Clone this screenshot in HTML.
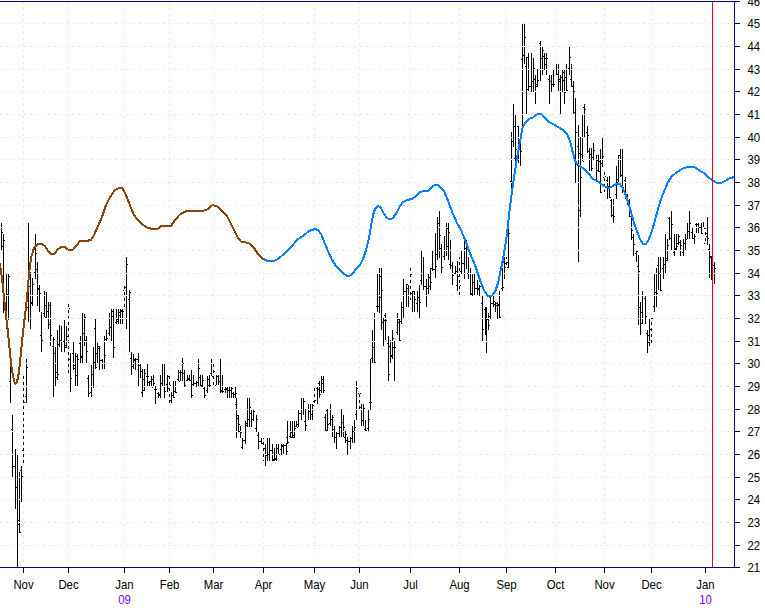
<!DOCTYPE html><html><head><meta charset="utf-8"><style>html,body{margin:0;padding:0;background:#fff}svg{display:block}text{font-family:"Liberation Sans",sans-serif;font-size:12px;fill:#000}</style></head><body>
<svg width="765" height="610" viewBox="0 0 765 610">
<rect width="765" height="610" fill="#fff"/>
<g shape-rendering="crispEdges" fill="#000">
<rect x="1" y="223" width="1" height="27"/>
<rect x="0" y="227" width="1" height="1"/>
<rect x="2" y="232" width="1" height="1"/>
<rect x="3" y="234" width="1" height="79"/>
<rect x="2" y="246" width="1" height="1"/>
<rect x="4" y="240" width="1" height="1"/>
<rect x="6" y="274" width="1" height="55"/>
<rect x="5" y="302" width="1" height="1"/>
<rect x="7" y="294" width="1" height="1"/>
<rect x="8" y="274" width="1" height="46"/>
<rect x="7" y="294" width="1" height="1"/>
<rect x="9" y="276" width="1" height="1"/>
<rect x="10" y="364" width="1" height="39"/>
<rect x="9" y="381" width="1" height="1"/>
<rect x="11" y="367" width="1" height="1"/>
<rect x="12" y="415" width="1" height="62"/>
<rect x="11" y="429" width="1" height="1"/>
<rect x="13" y="466" width="1" height="1"/>
<rect x="15" y="449" width="1" height="60"/>
<rect x="14" y="466" width="1" height="1"/>
<rect x="16" y="487" width="1" height="1"/>
<rect x="17" y="455" width="1" height="112"/>
<rect x="16" y="487" width="1" height="1"/>
<rect x="18" y="520" width="1" height="1"/>
<rect x="19" y="472" width="1" height="61"/>
<rect x="18" y="524" width="1" height="1"/>
<rect x="20" y="532" width="1" height="1"/>
<rect x="21" y="466" width="1" height="36"/>
<rect x="20" y="470" width="1" height="1"/>
<rect x="22" y="476" width="1" height="1"/>
<rect x="23" y="375" width="1" height="88"/>
<rect x="22" y="450" width="1" height="1"/>
<rect x="24" y="402" width="1" height="1"/>
<rect x="26" y="359" width="1" height="44"/>
<rect x="25" y="396" width="1" height="1"/>
<rect x="27" y="367" width="1" height="1"/>
<rect x="28" y="223" width="1" height="99"/>
<rect x="27" y="307" width="1" height="1"/>
<rect x="29" y="286" width="1" height="1"/>
<rect x="30" y="272" width="1" height="57"/>
<rect x="29" y="275" width="1" height="1"/>
<rect x="31" y="303" width="1" height="1"/>
<rect x="32" y="278" width="1" height="28"/>
<rect x="31" y="302" width="1" height="1"/>
<rect x="33" y="284" width="1" height="1"/>
<rect x="35" y="234" width="1" height="45"/>
<rect x="34" y="272" width="1" height="1"/>
<rect x="36" y="253" width="1" height="1"/>
<rect x="37" y="262" width="1" height="44"/>
<rect x="36" y="269" width="1" height="1"/>
<rect x="38" y="288" width="1" height="1"/>
<rect x="39" y="285" width="1" height="27"/>
<rect x="38" y="289" width="1" height="1"/>
<rect x="40" y="293" width="1" height="1"/>
<rect x="41" y="312" width="1" height="40"/>
<rect x="40" y="335" width="1" height="1"/>
<rect x="42" y="340" width="1" height="1"/>
<rect x="44" y="291" width="1" height="26"/>
<rect x="43" y="313" width="1" height="1"/>
<rect x="45" y="305" width="1" height="1"/>
<rect x="46" y="292" width="1" height="26"/>
<rect x="45" y="317" width="1" height="1"/>
<rect x="47" y="311" width="1" height="1"/>
<rect x="48" y="302" width="1" height="27"/>
<rect x="47" y="311" width="1" height="1"/>
<rect x="49" y="305" width="1" height="1"/>
<rect x="50" y="302" width="1" height="44"/>
<rect x="49" y="324" width="1" height="1"/>
<rect x="51" y="335" width="1" height="1"/>
<rect x="53" y="337" width="1" height="60"/>
<rect x="52" y="346" width="1" height="1"/>
<rect x="54" y="339" width="1" height="1"/>
<rect x="55" y="347" width="1" height="39"/>
<rect x="54" y="353" width="1" height="1"/>
<rect x="56" y="377" width="1" height="1"/>
<rect x="57" y="330" width="1" height="50"/>
<rect x="56" y="372" width="1" height="1"/>
<rect x="58" y="374" width="1" height="1"/>
<rect x="59" y="325" width="1" height="22"/>
<rect x="58" y="344" width="1" height="1"/>
<rect x="60" y="340" width="1" height="1"/>
<rect x="61" y="326" width="1" height="26"/>
<rect x="60" y="340" width="1" height="1"/>
<rect x="62" y="341" width="1" height="1"/>
<rect x="64" y="320" width="1" height="32"/>
<rect x="63" y="341" width="1" height="1"/>
<rect x="65" y="347" width="1" height="1"/>
<rect x="66" y="326" width="1" height="22"/>
<rect x="65" y="345" width="1" height="1"/>
<rect x="67" y="336" width="1" height="1"/>
<rect x="68" y="304" width="1" height="70"/>
<rect x="67" y="336" width="1" height="1"/>
<rect x="69" y="308" width="1" height="1"/>
<rect x="70" y="353" width="1" height="39"/>
<rect x="69" y="359" width="1" height="1"/>
<rect x="71" y="378" width="1" height="1"/>
<rect x="73" y="342" width="1" height="28"/>
<rect x="72" y="353" width="1" height="1"/>
<rect x="74" y="365" width="1" height="1"/>
<rect x="75" y="353" width="1" height="33"/>
<rect x="74" y="368" width="1" height="1"/>
<rect x="76" y="375" width="1" height="1"/>
<rect x="77" y="354" width="1" height="32"/>
<rect x="76" y="356" width="1" height="1"/>
<rect x="78" y="359" width="1" height="1"/>
<rect x="80" y="336" width="1" height="27"/>
<rect x="79" y="343" width="1" height="1"/>
<rect x="81" y="357" width="1" height="1"/>
<rect x="82" y="313" width="1" height="50"/>
<rect x="81" y="356" width="1" height="1"/>
<rect x="83" y="333" width="1" height="1"/>
<rect x="84" y="314" width="1" height="32"/>
<rect x="83" y="333" width="1" height="1"/>
<rect x="85" y="317" width="1" height="1"/>
<rect x="86" y="336" width="1" height="27"/>
<rect x="85" y="340" width="1" height="1"/>
<rect x="87" y="351" width="1" height="1"/>
<rect x="88" y="375" width="1" height="22"/>
<rect x="87" y="378" width="1" height="1"/>
<rect x="89" y="393" width="1" height="1"/>
<rect x="91" y="365" width="1" height="32"/>
<rect x="90" y="392" width="1" height="1"/>
<rect x="92" y="374" width="1" height="1"/>
<rect x="93" y="347" width="1" height="41"/>
<rect x="92" y="374" width="1" height="1"/>
<rect x="94" y="362" width="1" height="1"/>
<rect x="95" y="319" width="1" height="50"/>
<rect x="94" y="328" width="1" height="1"/>
<rect x="96" y="367" width="1" height="1"/>
<rect x="97" y="343" width="1" height="20"/>
<rect x="96" y="353" width="1" height="1"/>
<rect x="98" y="348" width="1" height="1"/>
<rect x="99" y="346" width="1" height="24"/>
<rect x="98" y="346" width="1" height="1"/>
<rect x="100" y="360" width="1" height="1"/>
<rect x="102" y="359" width="1" height="10"/>
<rect x="101" y="360" width="1" height="1"/>
<rect x="103" y="363" width="1" height="1"/>
<rect x="104" y="336" width="1" height="33"/>
<rect x="103" y="363" width="1" height="1"/>
<rect x="105" y="355" width="1" height="1"/>
<rect x="106" y="330" width="1" height="11"/>
<rect x="105" y="339" width="1" height="1"/>
<rect x="107" y="338" width="1" height="1"/>
<rect x="109" y="313" width="1" height="23"/>
<rect x="108" y="333" width="1" height="1"/>
<rect x="110" y="327" width="1" height="1"/>
<rect x="111" y="309" width="1" height="32"/>
<rect x="110" y="327" width="1" height="1"/>
<rect x="112" y="311" width="1" height="1"/>
<rect x="113" y="309" width="1" height="49"/>
<rect x="112" y="316" width="1" height="1"/>
<rect x="114" y="347" width="1" height="1"/>
<rect x="116" y="309" width="1" height="15"/>
<rect x="115" y="322" width="1" height="1"/>
<rect x="117" y="321" width="1" height="1"/>
<rect x="118" y="309" width="1" height="15"/>
<rect x="117" y="319" width="1" height="1"/>
<rect x="119" y="315" width="1" height="1"/>
<rect x="120" y="309" width="1" height="15"/>
<rect x="119" y="312" width="1" height="1"/>
<rect x="121" y="310" width="1" height="1"/>
<rect x="122" y="309" width="1" height="15"/>
<rect x="121" y="311" width="1" height="1"/>
<rect x="123" y="311" width="1" height="1"/>
<rect x="124" y="286" width="1" height="24"/>
<rect x="123" y="290" width="1" height="1"/>
<rect x="125" y="287" width="1" height="1"/>
<rect x="126" y="257" width="1" height="72"/>
<rect x="125" y="287" width="1" height="1"/>
<rect x="127" y="264" width="1" height="1"/>
<rect x="129" y="290" width="1" height="62"/>
<rect x="128" y="299" width="1" height="1"/>
<rect x="130" y="292" width="1" height="1"/>
<rect x="131" y="352" width="1" height="23"/>
<rect x="130" y="358" width="1" height="1"/>
<rect x="132" y="366" width="1" height="1"/>
<rect x="133" y="354" width="1" height="15"/>
<rect x="132" y="366" width="1" height="1"/>
<rect x="134" y="359" width="1" height="1"/>
<rect x="135" y="358" width="1" height="12"/>
<rect x="134" y="360" width="1" height="1"/>
<rect x="136" y="359" width="1" height="1"/>
<rect x="138" y="353" width="1" height="33"/>
<rect x="137" y="359" width="1" height="1"/>
<rect x="139" y="386" width="1" height="1"/>
<rect x="140" y="364" width="1" height="14"/>
<rect x="139" y="365" width="1" height="1"/>
<rect x="141" y="371" width="1" height="1"/>
<rect x="142" y="369" width="1" height="28"/>
<rect x="141" y="392" width="1" height="1"/>
<rect x="143" y="379" width="1" height="1"/>
<rect x="144" y="369" width="1" height="22"/>
<rect x="143" y="390" width="1" height="1"/>
<rect x="145" y="373" width="1" height="1"/>
<rect x="147" y="364" width="1" height="22"/>
<rect x="146" y="376" width="1" height="1"/>
<rect x="148" y="376" width="1" height="1"/>
<rect x="149" y="381" width="1" height="5"/>
<rect x="148" y="382" width="1" height="1"/>
<rect x="150" y="381" width="1" height="1"/>
<rect x="151" y="376" width="1" height="11"/>
<rect x="150" y="381" width="1" height="1"/>
<rect x="152" y="387" width="1" height="1"/>
<rect x="153" y="375" width="1" height="11"/>
<rect x="152" y="379" width="1" height="1"/>
<rect x="154" y="383" width="1" height="1"/>
<rect x="155" y="386" width="1" height="18"/>
<rect x="154" y="389" width="1" height="1"/>
<rect x="156" y="389" width="1" height="1"/>
<rect x="158" y="392" width="1" height="6"/>
<rect x="157" y="393" width="1" height="1"/>
<rect x="159" y="395" width="1" height="1"/>
<rect x="160" y="375" width="1" height="23"/>
<rect x="159" y="394" width="1" height="1"/>
<rect x="161" y="383" width="1" height="1"/>
<rect x="162" y="364" width="1" height="22"/>
<rect x="161" y="383" width="1" height="1"/>
<rect x="163" y="386" width="1" height="1"/>
<rect x="164" y="364" width="1" height="34"/>
<rect x="163" y="386" width="1" height="1"/>
<rect x="165" y="391" width="1" height="1"/>
<rect x="167" y="375" width="1" height="17"/>
<rect x="166" y="384" width="1" height="1"/>
<rect x="168" y="388" width="1" height="1"/>
<rect x="169" y="375" width="1" height="28"/>
<rect x="168" y="376" width="1" height="1"/>
<rect x="170" y="385" width="1" height="1"/>
<rect x="171" y="392" width="1" height="11"/>
<rect x="170" y="400" width="1" height="1"/>
<rect x="172" y="395" width="1" height="1"/>
<rect x="173" y="381" width="1" height="17"/>
<rect x="172" y="395" width="1" height="1"/>
<rect x="174" y="397" width="1" height="1"/>
<rect x="175" y="381" width="1" height="12"/>
<rect x="174" y="391" width="1" height="1"/>
<rect x="176" y="392" width="1" height="1"/>
<rect x="178" y="370" width="1" height="11"/>
<rect x="177" y="379" width="1" height="1"/>
<rect x="179" y="381" width="1" height="1"/>
<rect x="180" y="370" width="1" height="11"/>
<rect x="179" y="372" width="1" height="1"/>
<rect x="181" y="372" width="1" height="1"/>
<rect x="182" y="358" width="1" height="23"/>
<rect x="181" y="372" width="1" height="1"/>
<rect x="183" y="363" width="1" height="1"/>
<rect x="184" y="370" width="1" height="17"/>
<rect x="183" y="373" width="1" height="1"/>
<rect x="185" y="385" width="1" height="1"/>
<rect x="187" y="375" width="1" height="6"/>
<rect x="186" y="380" width="1" height="1"/>
<rect x="188" y="378" width="1" height="1"/>
<rect x="189" y="375" width="1" height="6"/>
<rect x="188" y="379" width="1" height="1"/>
<rect x="190" y="380" width="1" height="1"/>
<rect x="191" y="370" width="1" height="28"/>
<rect x="190" y="380" width="1" height="1"/>
<rect x="192" y="395" width="1" height="1"/>
<rect x="193" y="375" width="1" height="11"/>
<rect x="192" y="384" width="1" height="1"/>
<rect x="194" y="383" width="1" height="1"/>
<rect x="196" y="381" width="1" height="6"/>
<rect x="195" y="383" width="1" height="1"/>
<rect x="197" y="382" width="1" height="1"/>
<rect x="198" y="359" width="1" height="27"/>
<rect x="197" y="382" width="1" height="1"/>
<rect x="199" y="368" width="1" height="1"/>
<rect x="200" y="375" width="1" height="11"/>
<rect x="199" y="377" width="1" height="1"/>
<rect x="201" y="386" width="1" height="1"/>
<rect x="202" y="375" width="1" height="12"/>
<rect x="201" y="385" width="1" height="1"/>
<rect x="203" y="380" width="1" height="1"/>
<rect x="204" y="386" width="1" height="12"/>
<rect x="203" y="388" width="1" height="1"/>
<rect x="205" y="395" width="1" height="1"/>
<rect x="207" y="376" width="1" height="17"/>
<rect x="206" y="390" width="1" height="1"/>
<rect x="208" y="379" width="1" height="1"/>
<rect x="209" y="375" width="1" height="12"/>
<rect x="208" y="385" width="1" height="1"/>
<rect x="210" y="385" width="1" height="1"/>
<rect x="211" y="359" width="1" height="17"/>
<rect x="210" y="373" width="1" height="1"/>
<rect x="212" y="376" width="1" height="1"/>
<rect x="213" y="364" width="1" height="21"/>
<rect x="212" y="376" width="1" height="1"/>
<rect x="214" y="371" width="1" height="1"/>
<rect x="216" y="375" width="1" height="10"/>
<rect x="215" y="385" width="1" height="1"/>
<rect x="217" y="376" width="1" height="1"/>
<rect x="218" y="375" width="1" height="10"/>
<rect x="217" y="376" width="1" height="1"/>
<rect x="219" y="381" width="1" height="1"/>
<rect x="220" y="359" width="1" height="34"/>
<rect x="219" y="381" width="1" height="1"/>
<rect x="221" y="391" width="1" height="1"/>
<rect x="222" y="375" width="1" height="18"/>
<rect x="221" y="390" width="1" height="1"/>
<rect x="223" y="391" width="1" height="1"/>
<rect x="225" y="387" width="1" height="6"/>
<rect x="224" y="389" width="1" height="1"/>
<rect x="226" y="388" width="1" height="1"/>
<rect x="227" y="387" width="1" height="11"/>
<rect x="226" y="389" width="1" height="1"/>
<rect x="228" y="390" width="1" height="1"/>
<rect x="229" y="387" width="1" height="11"/>
<rect x="228" y="390" width="1" height="1"/>
<rect x="230" y="390" width="1" height="1"/>
<rect x="231" y="387" width="1" height="11"/>
<rect x="230" y="390" width="1" height="1"/>
<rect x="232" y="388" width="1" height="1"/>
<rect x="233" y="392" width="1" height="6"/>
<rect x="232" y="393" width="1" height="1"/>
<rect x="234" y="394" width="1" height="1"/>
<rect x="235" y="387" width="1" height="11"/>
<rect x="234" y="394" width="1" height="1"/>
<rect x="236" y="393" width="1" height="1"/>
<rect x="236" y="398" width="1" height="40"/>
<rect x="235" y="404" width="1" height="1"/>
<rect x="237" y="415" width="1" height="1"/>
<rect x="238" y="415" width="1" height="17"/>
<rect x="237" y="418" width="1" height="1"/>
<rect x="239" y="424" width="1" height="1"/>
<rect x="240" y="426" width="1" height="12"/>
<rect x="239" y="431" width="1" height="1"/>
<rect x="241" y="432" width="1" height="1"/>
<rect x="242" y="438" width="1" height="11"/>
<rect x="241" y="447" width="1" height="1"/>
<rect x="243" y="440" width="1" height="1"/>
<rect x="245" y="421" width="1" height="23"/>
<rect x="244" y="440" width="1" height="1"/>
<rect x="246" y="425" width="1" height="1"/>
<rect x="247" y="398" width="1" height="29"/>
<rect x="246" y="423" width="1" height="1"/>
<rect x="248" y="419" width="1" height="1"/>
<rect x="249" y="398" width="1" height="29"/>
<rect x="248" y="419" width="1" height="1"/>
<rect x="250" y="407" width="1" height="1"/>
<rect x="251" y="410" width="1" height="17"/>
<rect x="250" y="413" width="1" height="1"/>
<rect x="252" y="419" width="1" height="1"/>
<rect x="253" y="410" width="1" height="11"/>
<rect x="252" y="419" width="1" height="1"/>
<rect x="254" y="411" width="1" height="1"/>
<rect x="256" y="415" width="1" height="17"/>
<rect x="255" y="428" width="1" height="1"/>
<rect x="257" y="419" width="1" height="1"/>
<rect x="258" y="432" width="1" height="17"/>
<rect x="257" y="435" width="1" height="1"/>
<rect x="259" y="441" width="1" height="1"/>
<rect x="261" y="438" width="1" height="6"/>
<rect x="260" y="441" width="1" height="1"/>
<rect x="262" y="443" width="1" height="1"/>
<rect x="263" y="438" width="1" height="23"/>
<rect x="262" y="443" width="1" height="1"/>
<rect x="264" y="448" width="1" height="1"/>
<rect x="265" y="444" width="1" height="22"/>
<rect x="264" y="448" width="1" height="1"/>
<rect x="266" y="455" width="1" height="1"/>
<rect x="267" y="438" width="1" height="23"/>
<rect x="266" y="455" width="1" height="1"/>
<rect x="268" y="454" width="1" height="1"/>
<rect x="269" y="438" width="1" height="23"/>
<rect x="268" y="454" width="1" height="1"/>
<rect x="270" y="450" width="1" height="1"/>
<rect x="272" y="444" width="1" height="17"/>
<rect x="271" y="450" width="1" height="1"/>
<rect x="273" y="460" width="1" height="1"/>
<rect x="274" y="448" width="1" height="13"/>
<rect x="273" y="459" width="1" height="1"/>
<rect x="275" y="459" width="1" height="1"/>
<rect x="276" y="444" width="1" height="17"/>
<rect x="275" y="458" width="1" height="1"/>
<rect x="277" y="448" width="1" height="1"/>
<rect x="278" y="444" width="1" height="11"/>
<rect x="277" y="448" width="1" height="1"/>
<rect x="279" y="454" width="1" height="1"/>
<rect x="281" y="444" width="1" height="11"/>
<rect x="280" y="449" width="1" height="1"/>
<rect x="282" y="446" width="1" height="1"/>
<rect x="283" y="444" width="1" height="11"/>
<rect x="282" y="445" width="1" height="1"/>
<rect x="284" y="445" width="1" height="1"/>
<rect x="286" y="443" width="1" height="12"/>
<rect x="285" y="445" width="1" height="1"/>
<rect x="287" y="451" width="1" height="1"/>
<rect x="287" y="421" width="1" height="23"/>
<rect x="286" y="437" width="1" height="1"/>
<rect x="288" y="442" width="1" height="1"/>
<rect x="290" y="421" width="1" height="17"/>
<rect x="289" y="436" width="1" height="1"/>
<rect x="291" y="432" width="1" height="1"/>
<rect x="292" y="421" width="1" height="17"/>
<rect x="291" y="437" width="1" height="1"/>
<rect x="293" y="437" width="1" height="1"/>
<rect x="294" y="421" width="1" height="17"/>
<rect x="293" y="435" width="1" height="1"/>
<rect x="295" y="428" width="1" height="1"/>
<rect x="296" y="421" width="1" height="6"/>
<rect x="295" y="426" width="1" height="1"/>
<rect x="297" y="427" width="1" height="1"/>
<rect x="298" y="410" width="1" height="17"/>
<rect x="297" y="424" width="1" height="1"/>
<rect x="299" y="413" width="1" height="1"/>
<rect x="301" y="398" width="1" height="22"/>
<rect x="300" y="413" width="1" height="1"/>
<rect x="302" y="409" width="1" height="1"/>
<rect x="303" y="398" width="1" height="17"/>
<rect x="302" y="409" width="1" height="1"/>
<rect x="304" y="401" width="1" height="1"/>
<rect x="305" y="409" width="1" height="22"/>
<rect x="304" y="421" width="1" height="1"/>
<rect x="306" y="425" width="1" height="1"/>
<rect x="308" y="404" width="1" height="16"/>
<rect x="307" y="409" width="1" height="1"/>
<rect x="309" y="411" width="1" height="1"/>
<rect x="310" y="404" width="1" height="16"/>
<rect x="309" y="411" width="1" height="1"/>
<rect x="311" y="414" width="1" height="1"/>
<rect x="312" y="404" width="1" height="16"/>
<rect x="311" y="414" width="1" height="1"/>
<rect x="313" y="405" width="1" height="1"/>
<rect x="314" y="387" width="1" height="17"/>
<rect x="313" y="401" width="1" height="1"/>
<rect x="315" y="400" width="1" height="1"/>
<rect x="317" y="387" width="1" height="17"/>
<rect x="316" y="388" width="1" height="1"/>
<rect x="318" y="389" width="1" height="1"/>
<rect x="319" y="381" width="1" height="17"/>
<rect x="318" y="383" width="1" height="1"/>
<rect x="320" y="394" width="1" height="1"/>
<rect x="321" y="376" width="1" height="17"/>
<rect x="320" y="390" width="1" height="1"/>
<rect x="322" y="383" width="1" height="1"/>
<rect x="323" y="376" width="1" height="17"/>
<rect x="322" y="379" width="1" height="1"/>
<rect x="324" y="390" width="1" height="1"/>
<rect x="325" y="414" width="1" height="17"/>
<rect x="324" y="417" width="1" height="1"/>
<rect x="326" y="430" width="1" height="1"/>
<rect x="327" y="409" width="1" height="22"/>
<rect x="326" y="410" width="1" height="1"/>
<rect x="328" y="424" width="1" height="1"/>
<rect x="330" y="404" width="1" height="22"/>
<rect x="329" y="423" width="1" height="1"/>
<rect x="331" y="419" width="1" height="1"/>
<rect x="332" y="415" width="1" height="22"/>
<rect x="331" y="419" width="1" height="1"/>
<rect x="333" y="417" width="1" height="1"/>
<rect x="334" y="426" width="1" height="17"/>
<rect x="333" y="429" width="1" height="1"/>
<rect x="335" y="437" width="1" height="1"/>
<rect x="336" y="431" width="1" height="18"/>
<rect x="335" y="437" width="1" height="1"/>
<rect x="337" y="433" width="1" height="1"/>
<rect x="339" y="426" width="1" height="11"/>
<rect x="338" y="433" width="1" height="1"/>
<rect x="340" y="427" width="1" height="1"/>
<rect x="341" y="409" width="1" height="28"/>
<rect x="340" y="427" width="1" height="1"/>
<rect x="342" y="422" width="1" height="1"/>
<rect x="343" y="415" width="1" height="22"/>
<rect x="342" y="422" width="1" height="1"/>
<rect x="344" y="427" width="1" height="1"/>
<rect x="345" y="431" width="1" height="12"/>
<rect x="344" y="437" width="1" height="1"/>
<rect x="346" y="434" width="1" height="1"/>
<rect x="347" y="437" width="1" height="18"/>
<rect x="346" y="440" width="1" height="1"/>
<rect x="348" y="441" width="1" height="1"/>
<rect x="350" y="437" width="1" height="12"/>
<rect x="349" y="441" width="1" height="1"/>
<rect x="351" y="438" width="1" height="1"/>
<rect x="352" y="426" width="1" height="17"/>
<rect x="351" y="438" width="1" height="1"/>
<rect x="353" y="431" width="1" height="1"/>
<rect x="354" y="420" width="1" height="23"/>
<rect x="353" y="431" width="1" height="1"/>
<rect x="355" y="427" width="1" height="1"/>
<rect x="356" y="381" width="1" height="39"/>
<rect x="355" y="414" width="1" height="1"/>
<rect x="357" y="388" width="1" height="1"/>
<rect x="359" y="393" width="1" height="17"/>
<rect x="358" y="393" width="1" height="1"/>
<rect x="360" y="393" width="1" height="1"/>
<rect x="361" y="404" width="1" height="22"/>
<rect x="360" y="407" width="1" height="1"/>
<rect x="362" y="420" width="1" height="1"/>
<rect x="363" y="404" width="1" height="22"/>
<rect x="362" y="420" width="1" height="1"/>
<rect x="364" y="408" width="1" height="1"/>
<rect x="365" y="420" width="1" height="11"/>
<rect x="364" y="429" width="1" height="1"/>
<rect x="366" y="430" width="1" height="1"/>
<rect x="368" y="409" width="1" height="22"/>
<rect x="367" y="428" width="1" height="1"/>
<rect x="369" y="419" width="1" height="1"/>
<rect x="370" y="359" width="1" height="51"/>
<rect x="369" y="402" width="1" height="1"/>
<rect x="371" y="402" width="1" height="1"/>
<rect x="372" y="330" width="1" height="33"/>
<rect x="371" y="358" width="1" height="1"/>
<rect x="373" y="347" width="1" height="1"/>
<rect x="374" y="313" width="1" height="50"/>
<rect x="373" y="347" width="1" height="1"/>
<rect x="375" y="362" width="1" height="1"/>
<rect x="377" y="274" width="1" height="38"/>
<rect x="376" y="306" width="1" height="1"/>
<rect x="378" y="306" width="1" height="1"/>
<rect x="379" y="268" width="1" height="45"/>
<rect x="378" y="306" width="1" height="1"/>
<rect x="380" y="297" width="1" height="1"/>
<rect x="381" y="268" width="1" height="62"/>
<rect x="380" y="276" width="1" height="1"/>
<rect x="382" y="290" width="1" height="1"/>
<rect x="383" y="318" width="1" height="28"/>
<rect x="382" y="322" width="1" height="1"/>
<rect x="384" y="320" width="1" height="1"/>
<rect x="385" y="313" width="1" height="27"/>
<rect x="384" y="315" width="1" height="1"/>
<rect x="386" y="320" width="1" height="1"/>
<rect x="388" y="336" width="1" height="45"/>
<rect x="387" y="343" width="1" height="1"/>
<rect x="389" y="374" width="1" height="1"/>
<rect x="390" y="340" width="1" height="24"/>
<rect x="389" y="346" width="1" height="1"/>
<rect x="391" y="356" width="1" height="1"/>
<rect x="392" y="330" width="1" height="29"/>
<rect x="391" y="355" width="1" height="1"/>
<rect x="393" y="338" width="1" height="1"/>
<rect x="394" y="341" width="1" height="40"/>
<rect x="393" y="347" width="1" height="1"/>
<rect x="395" y="347" width="1" height="1"/>
<rect x="397" y="313" width="1" height="22"/>
<rect x="396" y="332" width="1" height="1"/>
<rect x="398" y="319" width="1" height="1"/>
<rect x="399" y="319" width="1" height="22"/>
<rect x="398" y="322" width="1" height="1"/>
<rect x="400" y="340" width="1" height="1"/>
<rect x="401" y="302" width="1" height="22"/>
<rect x="400" y="321" width="1" height="1"/>
<rect x="402" y="307" width="1" height="1"/>
<rect x="403" y="279" width="1" height="39"/>
<rect x="402" y="307" width="1" height="1"/>
<rect x="404" y="291" width="1" height="1"/>
<rect x="406" y="284" width="1" height="23"/>
<rect x="405" y="291" width="1" height="1"/>
<rect x="407" y="284" width="1" height="1"/>
<rect x="408" y="285" width="1" height="22"/>
<rect x="407" y="288" width="1" height="1"/>
<rect x="409" y="295" width="1" height="1"/>
<rect x="410" y="268" width="1" height="32"/>
<rect x="409" y="295" width="1" height="1"/>
<rect x="411" y="274" width="1" height="1"/>
<rect x="412" y="291" width="1" height="21"/>
<rect x="411" y="293" width="1" height="1"/>
<rect x="413" y="291" width="1" height="1"/>
<rect x="414" y="291" width="1" height="21"/>
<rect x="413" y="291" width="1" height="1"/>
<rect x="415" y="299" width="1" height="1"/>
<rect x="417" y="291" width="1" height="21"/>
<rect x="416" y="303" width="1" height="1"/>
<rect x="418" y="297" width="1" height="1"/>
<rect x="419" y="285" width="1" height="33"/>
<rect x="418" y="297" width="1" height="1"/>
<rect x="420" y="302" width="1" height="1"/>
<rect x="421" y="251" width="1" height="34"/>
<rect x="420" y="280" width="1" height="1"/>
<rect x="422" y="273" width="1" height="1"/>
<rect x="423" y="257" width="1" height="33"/>
<rect x="422" y="273" width="1" height="1"/>
<rect x="424" y="286" width="1" height="1"/>
<rect x="426" y="279" width="1" height="28"/>
<rect x="425" y="286" width="1" height="1"/>
<rect x="427" y="288" width="1" height="1"/>
<rect x="428" y="274" width="1" height="20"/>
<rect x="427" y="288" width="1" height="1"/>
<rect x="429" y="277" width="1" height="1"/>
<rect x="430" y="268" width="1" height="22"/>
<rect x="429" y="286" width="1" height="1"/>
<rect x="431" y="282" width="1" height="1"/>
<rect x="432" y="251" width="1" height="20"/>
<rect x="431" y="268" width="1" height="1"/>
<rect x="433" y="269" width="1" height="1"/>
<rect x="435" y="233" width="1" height="45"/>
<rect x="434" y="269" width="1" height="1"/>
<rect x="436" y="266" width="1" height="1"/>
<rect x="437" y="217" width="1" height="43"/>
<rect x="436" y="254" width="1" height="1"/>
<rect x="438" y="223" width="1" height="1"/>
<rect x="439" y="211" width="1" height="47"/>
<rect x="438" y="223" width="1" height="1"/>
<rect x="440" y="235" width="1" height="1"/>
<rect x="441" y="244" width="1" height="29"/>
<rect x="440" y="248" width="1" height="1"/>
<rect x="442" y="267" width="1" height="1"/>
<rect x="444" y="236" width="1" height="24"/>
<rect x="443" y="256" width="1" height="1"/>
<rect x="445" y="250" width="1" height="1"/>
<rect x="446" y="223" width="1" height="33"/>
<rect x="445" y="250" width="1" height="1"/>
<rect x="447" y="246" width="1" height="1"/>
<rect x="448" y="223" width="1" height="37"/>
<rect x="447" y="228" width="1" height="1"/>
<rect x="449" y="232" width="1" height="1"/>
<rect x="450" y="240" width="1" height="29"/>
<rect x="449" y="264" width="1" height="1"/>
<rect x="451" y="250" width="1" height="1"/>
<rect x="452" y="262" width="1" height="23"/>
<rect x="451" y="265" width="1" height="1"/>
<rect x="453" y="275" width="1" height="1"/>
<rect x="455" y="266" width="1" height="8"/>
<rect x="454" y="273" width="1" height="1"/>
<rect x="456" y="271" width="1" height="1"/>
<rect x="457" y="261" width="1" height="30"/>
<rect x="456" y="285" width="1" height="1"/>
<rect x="458" y="276" width="1" height="1"/>
<rect x="459" y="257" width="1" height="38"/>
<rect x="458" y="276" width="1" height="1"/>
<rect x="460" y="285" width="1" height="1"/>
<rect x="461" y="251" width="1" height="23"/>
<rect x="460" y="271" width="1" height="1"/>
<rect x="462" y="263" width="1" height="1"/>
<rect x="464" y="240" width="1" height="39"/>
<rect x="463" y="263" width="1" height="1"/>
<rect x="465" y="243" width="1" height="1"/>
<rect x="466" y="240" width="1" height="29"/>
<rect x="465" y="248" width="1" height="1"/>
<rect x="467" y="247" width="1" height="1"/>
<rect x="468" y="257" width="1" height="22"/>
<rect x="467" y="273" width="1" height="1"/>
<rect x="469" y="273" width="1" height="1"/>
<rect x="470" y="268" width="1" height="27"/>
<rect x="469" y="273" width="1" height="1"/>
<rect x="471" y="294" width="1" height="1"/>
<rect x="472" y="274" width="1" height="22"/>
<rect x="471" y="293" width="1" height="1"/>
<rect x="473" y="282" width="1" height="1"/>
<rect x="474" y="274" width="1" height="21"/>
<rect x="473" y="282" width="1" height="1"/>
<rect x="475" y="288" width="1" height="1"/>
<rect x="477" y="280" width="1" height="15"/>
<rect x="476" y="288" width="1" height="1"/>
<rect x="478" y="289" width="1" height="1"/>
<rect x="479" y="285" width="1" height="11"/>
<rect x="478" y="288" width="1" height="1"/>
<rect x="480" y="286" width="1" height="1"/>
<rect x="482" y="296" width="1" height="45"/>
<rect x="481" y="303" width="1" height="1"/>
<rect x="483" y="329" width="1" height="1"/>
<rect x="485" y="307" width="1" height="28"/>
<rect x="484" y="309" width="1" height="1"/>
<rect x="486" y="323" width="1" height="1"/>
<rect x="486" y="307" width="1" height="46"/>
<rect x="485" y="323" width="1" height="1"/>
<rect x="487" y="319" width="1" height="1"/>
<rect x="488" y="313" width="1" height="17"/>
<rect x="487" y="319" width="1" height="1"/>
<rect x="489" y="325" width="1" height="1"/>
<rect x="490" y="296" width="1" height="23"/>
<rect x="489" y="316" width="1" height="1"/>
<rect x="491" y="303" width="1" height="1"/>
<rect x="493" y="296" width="1" height="11"/>
<rect x="492" y="303" width="1" height="1"/>
<rect x="494" y="301" width="1" height="1"/>
<rect x="495" y="302" width="1" height="10"/>
<rect x="494" y="304" width="1" height="1"/>
<rect x="496" y="303" width="1" height="1"/>
<rect x="497" y="302" width="1" height="17"/>
<rect x="496" y="305" width="1" height="1"/>
<rect x="498" y="305" width="1" height="1"/>
<rect x="499" y="291" width="1" height="28"/>
<rect x="498" y="304" width="1" height="1"/>
<rect x="500" y="317" width="1" height="1"/>
<rect x="502" y="268" width="1" height="23"/>
<rect x="501" y="288" width="1" height="1"/>
<rect x="503" y="287" width="1" height="1"/>
<rect x="504" y="257" width="1" height="22"/>
<rect x="503" y="262" width="1" height="1"/>
<rect x="505" y="267" width="1" height="1"/>
<rect x="506" y="257" width="1" height="11"/>
<rect x="505" y="263" width="1" height="1"/>
<rect x="507" y="267" width="1" height="1"/>
<rect x="508" y="227" width="1" height="41"/>
<rect x="507" y="262" width="1" height="1"/>
<rect x="509" y="233" width="1" height="1"/>
<rect x="511" y="132" width="1" height="60"/>
<rect x="510" y="181" width="1" height="1"/>
<rect x="512" y="189" width="1" height="1"/>
<rect x="513" y="104" width="1" height="43"/>
<rect x="512" y="141" width="1" height="1"/>
<rect x="514" y="126" width="1" height="1"/>
<rect x="515" y="115" width="1" height="48"/>
<rect x="514" y="158" width="1" height="1"/>
<rect x="516" y="149" width="1" height="1"/>
<rect x="518" y="126" width="1" height="37"/>
<rect x="517" y="126" width="1" height="1"/>
<rect x="519" y="144" width="1" height="1"/>
<rect x="520" y="137" width="1" height="29"/>
<rect x="519" y="144" width="1" height="1"/>
<rect x="521" y="151" width="1" height="1"/>
<rect x="522" y="24" width="1" height="102"/>
<rect x="521" y="59" width="1" height="1"/>
<rect x="523" y="55" width="1" height="1"/>
<rect x="524" y="24" width="1" height="40"/>
<rect x="523" y="55" width="1" height="1"/>
<rect x="525" y="37" width="1" height="1"/>
<rect x="526" y="57" width="1" height="57"/>
<rect x="525" y="66" width="1" height="1"/>
<rect x="527" y="57" width="1" height="1"/>
<rect x="528" y="53" width="1" height="39"/>
<rect x="527" y="89" width="1" height="1"/>
<rect x="529" y="86" width="1" height="1"/>
<rect x="531" y="53" width="1" height="39"/>
<rect x="530" y="86" width="1" height="1"/>
<rect x="532" y="81" width="1" height="1"/>
<rect x="533" y="58" width="1" height="34"/>
<rect x="532" y="81" width="1" height="1"/>
<rect x="534" y="68" width="1" height="1"/>
<rect x="535" y="75" width="1" height="29"/>
<rect x="534" y="79" width="1" height="1"/>
<rect x="536" y="86" width="1" height="1"/>
<rect x="537" y="69" width="1" height="18"/>
<rect x="536" y="84" width="1" height="1"/>
<rect x="538" y="80" width="1" height="1"/>
<rect x="540" y="41" width="1" height="40"/>
<rect x="539" y="43" width="1" height="1"/>
<rect x="541" y="58" width="1" height="1"/>
<rect x="542" y="47" width="1" height="28"/>
<rect x="541" y="58" width="1" height="1"/>
<rect x="543" y="50" width="1" height="1"/>
<rect x="544" y="53" width="1" height="17"/>
<rect x="543" y="56" width="1" height="1"/>
<rect x="545" y="58" width="1" height="1"/>
<rect x="546" y="53" width="1" height="22"/>
<rect x="545" y="64" width="1" height="1"/>
<rect x="547" y="58" width="1" height="1"/>
<rect x="549" y="75" width="1" height="29"/>
<rect x="548" y="79" width="1" height="1"/>
<rect x="550" y="81" width="1" height="1"/>
<rect x="551" y="75" width="1" height="17"/>
<rect x="550" y="81" width="1" height="1"/>
<rect x="552" y="91" width="1" height="1"/>
<rect x="553" y="70" width="1" height="17"/>
<rect x="552" y="84" width="1" height="1"/>
<rect x="554" y="84" width="1" height="1"/>
<rect x="556" y="64" width="1" height="11"/>
<rect x="555" y="73" width="1" height="1"/>
<rect x="557" y="74" width="1" height="1"/>
<rect x="558" y="64" width="1" height="28"/>
<rect x="557" y="74" width="1" height="1"/>
<rect x="559" y="79" width="1" height="1"/>
<rect x="560" y="75" width="1" height="39"/>
<rect x="559" y="81" width="1" height="1"/>
<rect x="561" y="77" width="1" height="1"/>
<rect x="562" y="70" width="1" height="22"/>
<rect x="561" y="77" width="1" height="1"/>
<rect x="563" y="80" width="1" height="1"/>
<rect x="564" y="70" width="1" height="34"/>
<rect x="563" y="72" width="1" height="1"/>
<rect x="565" y="92" width="1" height="1"/>
<rect x="566" y="64" width="1" height="28"/>
<rect x="565" y="77" width="1" height="1"/>
<rect x="567" y="90" width="1" height="1"/>
<rect x="569" y="47" width="1" height="28"/>
<rect x="568" y="68" width="1" height="1"/>
<rect x="570" y="57" width="1" height="1"/>
<rect x="571" y="64" width="1" height="23"/>
<rect x="570" y="79" width="1" height="1"/>
<rect x="572" y="86" width="1" height="1"/>
<rect x="573" y="81" width="1" height="33"/>
<rect x="572" y="86" width="1" height="1"/>
<rect x="574" y="91" width="1" height="1"/>
<rect x="575" y="98" width="1" height="85"/>
<rect x="574" y="112" width="1" height="1"/>
<rect x="576" y="132" width="1" height="1"/>
<rect x="578" y="125" width="1" height="137"/>
<rect x="577" y="146" width="1" height="1"/>
<rect x="579" y="153" width="1" height="1"/>
<rect x="580" y="137" width="1" height="80"/>
<rect x="579" y="210" width="1" height="1"/>
<rect x="581" y="177" width="1" height="1"/>
<rect x="582" y="115" width="1" height="46"/>
<rect x="581" y="154" width="1" height="1"/>
<rect x="583" y="161" width="1" height="1"/>
<rect x="584" y="104" width="1" height="33"/>
<rect x="583" y="107" width="1" height="1"/>
<rect x="585" y="109" width="1" height="1"/>
<rect x="587" y="126" width="1" height="27"/>
<rect x="586" y="132" width="1" height="1"/>
<rect x="588" y="135" width="1" height="1"/>
<rect x="589" y="148" width="1" height="23"/>
<rect x="588" y="151" width="1" height="1"/>
<rect x="590" y="154" width="1" height="1"/>
<rect x="591" y="148" width="1" height="23"/>
<rect x="590" y="154" width="1" height="1"/>
<rect x="592" y="168" width="1" height="1"/>
<rect x="593" y="143" width="1" height="17"/>
<rect x="592" y="157" width="1" height="1"/>
<rect x="594" y="150" width="1" height="1"/>
<rect x="596" y="155" width="1" height="28"/>
<rect x="595" y="159" width="1" height="1"/>
<rect x="597" y="170" width="1" height="1"/>
<rect x="598" y="155" width="1" height="17"/>
<rect x="597" y="160" width="1" height="1"/>
<rect x="599" y="161" width="1" height="1"/>
<rect x="600" y="149" width="1" height="44"/>
<rect x="599" y="171" width="1" height="1"/>
<rect x="601" y="192" width="1" height="1"/>
<rect x="602" y="138" width="1" height="29"/>
<rect x="601" y="163" width="1" height="1"/>
<rect x="603" y="156" width="1" height="1"/>
<rect x="604" y="172" width="1" height="20"/>
<rect x="603" y="177" width="1" height="1"/>
<rect x="605" y="176" width="1" height="1"/>
<rect x="607" y="177" width="1" height="22"/>
<rect x="606" y="180" width="1" height="1"/>
<rect x="608" y="186" width="1" height="1"/>
<rect x="609" y="176" width="1" height="22"/>
<rect x="608" y="186" width="1" height="1"/>
<rect x="610" y="197" width="1" height="1"/>
<rect x="611" y="199" width="1" height="18"/>
<rect x="610" y="200" width="1" height="1"/>
<rect x="612" y="215" width="1" height="1"/>
<rect x="613" y="199" width="1" height="24"/>
<rect x="612" y="215" width="1" height="1"/>
<rect x="614" y="216" width="1" height="1"/>
<rect x="616" y="166" width="1" height="33"/>
<rect x="615" y="194" width="1" height="1"/>
<rect x="617" y="182" width="1" height="1"/>
<rect x="618" y="155" width="1" height="28"/>
<rect x="617" y="179" width="1" height="1"/>
<rect x="619" y="155" width="1" height="1"/>
<rect x="620" y="149" width="1" height="28"/>
<rect x="619" y="155" width="1" height="1"/>
<rect x="621" y="175" width="1" height="1"/>
<rect x="622" y="149" width="1" height="44"/>
<rect x="621" y="175" width="1" height="1"/>
<rect x="623" y="187" width="1" height="1"/>
<rect x="625" y="177" width="1" height="22"/>
<rect x="624" y="180" width="1" height="1"/>
<rect x="626" y="182" width="1" height="1"/>
<rect x="627" y="194" width="1" height="11"/>
<rect x="626" y="196" width="1" height="1"/>
<rect x="628" y="200" width="1" height="1"/>
<rect x="629" y="199" width="1" height="18"/>
<rect x="628" y="202" width="1" height="1"/>
<rect x="630" y="216" width="1" height="1"/>
<rect x="631" y="211" width="1" height="29"/>
<rect x="630" y="216" width="1" height="1"/>
<rect x="632" y="230" width="1" height="1"/>
<rect x="633" y="234" width="1" height="22"/>
<rect x="632" y="237" width="1" height="1"/>
<rect x="634" y="244" width="1" height="1"/>
<rect x="636" y="251" width="1" height="11"/>
<rect x="635" y="253" width="1" height="1"/>
<rect x="637" y="251" width="1" height="1"/>
<rect x="638" y="255" width="1" height="70"/>
<rect x="637" y="266" width="1" height="1"/>
<rect x="639" y="271" width="1" height="1"/>
<rect x="640" y="302" width="1" height="33"/>
<rect x="639" y="307" width="1" height="1"/>
<rect x="641" y="323" width="1" height="1"/>
<rect x="642" y="291" width="1" height="33"/>
<rect x="641" y="312" width="1" height="1"/>
<rect x="643" y="295" width="1" height="1"/>
<rect x="645" y="296" width="1" height="28"/>
<rect x="644" y="298" width="1" height="1"/>
<rect x="646" y="316" width="1" height="1"/>
<rect x="647" y="330" width="1" height="23"/>
<rect x="646" y="333" width="1" height="1"/>
<rect x="648" y="342" width="1" height="1"/>
<rect x="649" y="319" width="1" height="27"/>
<rect x="648" y="335" width="1" height="1"/>
<rect x="650" y="329" width="1" height="1"/>
<rect x="651" y="318" width="1" height="28"/>
<rect x="650" y="329" width="1" height="1"/>
<rect x="652" y="318" width="1" height="1"/>
<rect x="654" y="274" width="1" height="38"/>
<rect x="653" y="306" width="1" height="1"/>
<rect x="655" y="292" width="1" height="1"/>
<rect x="656" y="268" width="1" height="39"/>
<rect x="655" y="292" width="1" height="1"/>
<rect x="657" y="293" width="1" height="1"/>
<rect x="658" y="257" width="1" height="33"/>
<rect x="657" y="265" width="1" height="1"/>
<rect x="659" y="273" width="1" height="1"/>
<rect x="660" y="257" width="1" height="34"/>
<rect x="659" y="273" width="1" height="1"/>
<rect x="661" y="290" width="1" height="1"/>
<rect x="663" y="257" width="1" height="22"/>
<rect x="662" y="268" width="1" height="1"/>
<rect x="664" y="264" width="1" height="1"/>
<rect x="665" y="234" width="1" height="39"/>
<rect x="664" y="264" width="1" height="1"/>
<rect x="666" y="260" width="1" height="1"/>
<rect x="667" y="239" width="1" height="22"/>
<rect x="666" y="258" width="1" height="1"/>
<rect x="668" y="245" width="1" height="1"/>
<rect x="669" y="217" width="1" height="23"/>
<rect x="668" y="218" width="1" height="1"/>
<rect x="670" y="238" width="1" height="1"/>
<rect x="671" y="211" width="1" height="39"/>
<rect x="670" y="238" width="1" height="1"/>
<rect x="672" y="224" width="1" height="1"/>
<rect x="674" y="234" width="1" height="22"/>
<rect x="673" y="252" width="1" height="1"/>
<rect x="675" y="249" width="1" height="1"/>
<rect x="676" y="234" width="1" height="16"/>
<rect x="675" y="248" width="1" height="1"/>
<rect x="677" y="246" width="1" height="1"/>
<rect x="678" y="234" width="1" height="11"/>
<rect x="677" y="243" width="1" height="1"/>
<rect x="679" y="236" width="1" height="1"/>
<rect x="680" y="240" width="1" height="16"/>
<rect x="679" y="242" width="1" height="1"/>
<rect x="681" y="245" width="1" height="1"/>
<rect x="683" y="239" width="1" height="17"/>
<rect x="682" y="252" width="1" height="1"/>
<rect x="684" y="243" width="1" height="1"/>
<rect x="685" y="234" width="1" height="16"/>
<rect x="684" y="243" width="1" height="1"/>
<rect x="686" y="239" width="1" height="1"/>
<rect x="687" y="223" width="1" height="16"/>
<rect x="686" y="227" width="1" height="1"/>
<rect x="688" y="231" width="1" height="1"/>
<rect x="689" y="211" width="1" height="28"/>
<rect x="688" y="231" width="1" height="1"/>
<rect x="690" y="223" width="1" height="1"/>
<rect x="692" y="228" width="1" height="11"/>
<rect x="691" y="232" width="1" height="1"/>
<rect x="693" y="238" width="1" height="1"/>
<rect x="694" y="234" width="1" height="10"/>
<rect x="693" y="238" width="1" height="1"/>
<rect x="695" y="236" width="1" height="1"/>
<rect x="696" y="223" width="1" height="10"/>
<rect x="695" y="224" width="1" height="1"/>
<rect x="697" y="224" width="1" height="1"/>
<rect x="698" y="223" width="1" height="10"/>
<rect x="697" y="224" width="1" height="1"/>
<rect x="699" y="227" width="1" height="1"/>
<rect x="701" y="223" width="1" height="11"/>
<rect x="700" y="227" width="1" height="1"/>
<rect x="702" y="233" width="1" height="1"/>
<rect x="703" y="222" width="1" height="6"/>
<rect x="702" y="227" width="1" height="1"/>
<rect x="704" y="228" width="1" height="1"/>
<rect x="705" y="228" width="1" height="16"/>
<rect x="704" y="243" width="1" height="1"/>
<rect x="706" y="233" width="1" height="1"/>
<rect x="707" y="217" width="1" height="28"/>
<rect x="706" y="236" width="1" height="1"/>
<rect x="708" y="238" width="1" height="1"/>
<rect x="709" y="244" width="1" height="34"/>
<rect x="708" y="249" width="1" height="1"/>
<rect x="710" y="257" width="1" height="1"/>
<rect x="711" y="256" width="1" height="24"/>
<rect x="710" y="256" width="1" height="1"/>
<rect x="712" y="264" width="1" height="1"/>
<rect x="714" y="262" width="1" height="22"/>
<rect x="713" y="265" width="1" height="1"/>
<rect x="715" y="268" width="1" height="1"/>
</g>
<g shape-rendering="crispEdges" stroke-width="1" fill="none">
<line x1="0" y1="545.5" x2="734" y2="545.5" stroke="#ffffcc" stroke-dasharray="1 5"/>
<line x1="1" y1="545.5" x2="734" y2="545.5" stroke="#ffccff" stroke-dasharray="1 5"/>
<line x1="2" y1="545.5" x2="734" y2="545.5" stroke="#ccffff" stroke-dasharray="1 5"/>
<line x1="0" y1="522.5" x2="734" y2="522.5" stroke="#ffccff" stroke-dasharray="1 5"/>
<line x1="1" y1="522.5" x2="734" y2="522.5" stroke="#ccffff" stroke-dasharray="1 5"/>
<line x1="2" y1="522.5" x2="734" y2="522.5" stroke="#ffffcc" stroke-dasharray="1 5"/>
<line x1="0" y1="499.5" x2="734" y2="499.5" stroke="#ccffff" stroke-dasharray="1 5"/>
<line x1="1" y1="499.5" x2="734" y2="499.5" stroke="#ffffcc" stroke-dasharray="1 5"/>
<line x1="2" y1="499.5" x2="734" y2="499.5" stroke="#ffccff" stroke-dasharray="1 5"/>
<line x1="0" y1="477.5" x2="734" y2="477.5" stroke="#ffffcc" stroke-dasharray="1 5"/>
<line x1="1" y1="477.5" x2="734" y2="477.5" stroke="#ffccff" stroke-dasharray="1 5"/>
<line x1="2" y1="477.5" x2="734" y2="477.5" stroke="#ccffff" stroke-dasharray="1 5"/>
<line x1="0" y1="454.5" x2="734" y2="454.5" stroke="#ffccff" stroke-dasharray="1 5"/>
<line x1="1" y1="454.5" x2="734" y2="454.5" stroke="#ccffff" stroke-dasharray="1 5"/>
<line x1="2" y1="454.5" x2="734" y2="454.5" stroke="#ffffcc" stroke-dasharray="1 5"/>
<line x1="0" y1="431.5" x2="734" y2="431.5" stroke="#ccffff" stroke-dasharray="1 5"/>
<line x1="1" y1="431.5" x2="734" y2="431.5" stroke="#ffffcc" stroke-dasharray="1 5"/>
<line x1="2" y1="431.5" x2="734" y2="431.5" stroke="#ffccff" stroke-dasharray="1 5"/>
<line x1="0" y1="409.5" x2="734" y2="409.5" stroke="#ffffcc" stroke-dasharray="1 5"/>
<line x1="1" y1="409.5" x2="734" y2="409.5" stroke="#ffccff" stroke-dasharray="1 5"/>
<line x1="2" y1="409.5" x2="734" y2="409.5" stroke="#ccffff" stroke-dasharray="1 5"/>
<line x1="0" y1="386.5" x2="734" y2="386.5" stroke="#ffccff" stroke-dasharray="1 5"/>
<line x1="1" y1="386.5" x2="734" y2="386.5" stroke="#ccffff" stroke-dasharray="1 5"/>
<line x1="2" y1="386.5" x2="734" y2="386.5" stroke="#ffffcc" stroke-dasharray="1 5"/>
<line x1="0" y1="363.5" x2="734" y2="363.5" stroke="#ccffff" stroke-dasharray="1 5"/>
<line x1="1" y1="363.5" x2="734" y2="363.5" stroke="#ffffcc" stroke-dasharray="1 5"/>
<line x1="2" y1="363.5" x2="734" y2="363.5" stroke="#ffccff" stroke-dasharray="1 5"/>
<line x1="0" y1="341.5" x2="734" y2="341.5" stroke="#ffffcc" stroke-dasharray="1 5"/>
<line x1="1" y1="341.5" x2="734" y2="341.5" stroke="#ffccff" stroke-dasharray="1 5"/>
<line x1="2" y1="341.5" x2="734" y2="341.5" stroke="#ccffff" stroke-dasharray="1 5"/>
<line x1="0" y1="318.5" x2="734" y2="318.5" stroke="#ffccff" stroke-dasharray="1 5"/>
<line x1="1" y1="318.5" x2="734" y2="318.5" stroke="#ccffff" stroke-dasharray="1 5"/>
<line x1="2" y1="318.5" x2="734" y2="318.5" stroke="#ffffcc" stroke-dasharray="1 5"/>
<line x1="0" y1="295.5" x2="734" y2="295.5" stroke="#ccffff" stroke-dasharray="1 5"/>
<line x1="1" y1="295.5" x2="734" y2="295.5" stroke="#ffffcc" stroke-dasharray="1 5"/>
<line x1="2" y1="295.5" x2="734" y2="295.5" stroke="#ffccff" stroke-dasharray="1 5"/>
<line x1="0" y1="273.5" x2="734" y2="273.5" stroke="#ffffcc" stroke-dasharray="1 5"/>
<line x1="1" y1="273.5" x2="734" y2="273.5" stroke="#ffccff" stroke-dasharray="1 5"/>
<line x1="2" y1="273.5" x2="734" y2="273.5" stroke="#ccffff" stroke-dasharray="1 5"/>
<line x1="0" y1="250.5" x2="734" y2="250.5" stroke="#ffccff" stroke-dasharray="1 5"/>
<line x1="1" y1="250.5" x2="734" y2="250.5" stroke="#ccffff" stroke-dasharray="1 5"/>
<line x1="2" y1="250.5" x2="734" y2="250.5" stroke="#ffffcc" stroke-dasharray="1 5"/>
<line x1="0" y1="227.5" x2="734" y2="227.5" stroke="#ccffff" stroke-dasharray="1 5"/>
<line x1="1" y1="227.5" x2="734" y2="227.5" stroke="#ffffcc" stroke-dasharray="1 5"/>
<line x1="2" y1="227.5" x2="734" y2="227.5" stroke="#ffccff" stroke-dasharray="1 5"/>
<line x1="0" y1="205.5" x2="734" y2="205.5" stroke="#ffffcc" stroke-dasharray="1 5"/>
<line x1="1" y1="205.5" x2="734" y2="205.5" stroke="#ffccff" stroke-dasharray="1 5"/>
<line x1="2" y1="205.5" x2="734" y2="205.5" stroke="#ccffff" stroke-dasharray="1 5"/>
<line x1="0" y1="182.5" x2="734" y2="182.5" stroke="#ffccff" stroke-dasharray="1 5"/>
<line x1="1" y1="182.5" x2="734" y2="182.5" stroke="#ccffff" stroke-dasharray="1 5"/>
<line x1="2" y1="182.5" x2="734" y2="182.5" stroke="#ffffcc" stroke-dasharray="1 5"/>
<line x1="0" y1="159.5" x2="734" y2="159.5" stroke="#ccffff" stroke-dasharray="1 5"/>
<line x1="1" y1="159.5" x2="734" y2="159.5" stroke="#ffffcc" stroke-dasharray="1 5"/>
<line x1="2" y1="159.5" x2="734" y2="159.5" stroke="#ffccff" stroke-dasharray="1 5"/>
<line x1="0" y1="137.5" x2="734" y2="137.5" stroke="#ffffcc" stroke-dasharray="1 5"/>
<line x1="1" y1="137.5" x2="734" y2="137.5" stroke="#ffccff" stroke-dasharray="1 5"/>
<line x1="2" y1="137.5" x2="734" y2="137.5" stroke="#ccffff" stroke-dasharray="1 5"/>
<line x1="0" y1="114.5" x2="734" y2="114.5" stroke="#ffccff" stroke-dasharray="1 5"/>
<line x1="1" y1="114.5" x2="734" y2="114.5" stroke="#ccffff" stroke-dasharray="1 5"/>
<line x1="2" y1="114.5" x2="734" y2="114.5" stroke="#ffffcc" stroke-dasharray="1 5"/>
<line x1="0" y1="91.5" x2="734" y2="91.5" stroke="#ccffff" stroke-dasharray="1 5"/>
<line x1="1" y1="91.5" x2="734" y2="91.5" stroke="#ffffcc" stroke-dasharray="1 5"/>
<line x1="2" y1="91.5" x2="734" y2="91.5" stroke="#ffccff" stroke-dasharray="1 5"/>
<line x1="0" y1="69.5" x2="734" y2="69.5" stroke="#ffffcc" stroke-dasharray="1 5"/>
<line x1="1" y1="69.5" x2="734" y2="69.5" stroke="#ffccff" stroke-dasharray="1 5"/>
<line x1="2" y1="69.5" x2="734" y2="69.5" stroke="#ccffff" stroke-dasharray="1 5"/>
<line x1="0" y1="46.5" x2="734" y2="46.5" stroke="#ffccff" stroke-dasharray="1 5"/>
<line x1="1" y1="46.5" x2="734" y2="46.5" stroke="#ccffff" stroke-dasharray="1 5"/>
<line x1="2" y1="46.5" x2="734" y2="46.5" stroke="#ffffcc" stroke-dasharray="1 5"/>
<line x1="0" y1="23.5" x2="734" y2="23.5" stroke="#ccffff" stroke-dasharray="1 5"/>
<line x1="1" y1="23.5" x2="734" y2="23.5" stroke="#ffffcc" stroke-dasharray="1 5"/>
<line x1="2" y1="23.5" x2="734" y2="23.5" stroke="#ffccff" stroke-dasharray="1 5"/>
<line x1="23.5" y1="1" x2="23.5" y2="567" stroke="#ffffcc" stroke-dasharray="1 5"/>
<line x1="23.5" y1="2" x2="23.5" y2="567" stroke="#ffccff" stroke-dasharray="1 5"/>
<line x1="23.5" y1="3" x2="23.5" y2="567" stroke="#ccffff" stroke-dasharray="1 5"/>
<line x1="68.5" y1="1" x2="68.5" y2="567" stroke="#ffccff" stroke-dasharray="1 5"/>
<line x1="68.5" y1="2" x2="68.5" y2="567" stroke="#ccffff" stroke-dasharray="1 5"/>
<line x1="68.5" y1="3" x2="68.5" y2="567" stroke="#ffffcc" stroke-dasharray="1 5"/>
<line x1="124.5" y1="1" x2="124.5" y2="567" stroke="#ccffff" stroke-dasharray="1 5"/>
<line x1="124.5" y1="2" x2="124.5" y2="567" stroke="#ffffcc" stroke-dasharray="1 5"/>
<line x1="124.5" y1="3" x2="124.5" y2="567" stroke="#ffccff" stroke-dasharray="1 5"/>
<line x1="169.5" y1="1" x2="169.5" y2="567" stroke="#ffffcc" stroke-dasharray="1 5"/>
<line x1="169.5" y1="2" x2="169.5" y2="567" stroke="#ffccff" stroke-dasharray="1 5"/>
<line x1="169.5" y1="3" x2="169.5" y2="567" stroke="#ccffff" stroke-dasharray="1 5"/>
<line x1="213.5" y1="1" x2="213.5" y2="567" stroke="#ffccff" stroke-dasharray="1 5"/>
<line x1="213.5" y1="2" x2="213.5" y2="567" stroke="#ccffff" stroke-dasharray="1 5"/>
<line x1="213.5" y1="3" x2="213.5" y2="567" stroke="#ffffcc" stroke-dasharray="1 5"/>
<line x1="263.5" y1="1" x2="263.5" y2="567" stroke="#ccffff" stroke-dasharray="1 5"/>
<line x1="263.5" y1="2" x2="263.5" y2="567" stroke="#ffffcc" stroke-dasharray="1 5"/>
<line x1="263.5" y1="3" x2="263.5" y2="567" stroke="#ffccff" stroke-dasharray="1 5"/>
<line x1="314.5" y1="1" x2="314.5" y2="567" stroke="#ffffcc" stroke-dasharray="1 5"/>
<line x1="314.5" y1="2" x2="314.5" y2="567" stroke="#ffccff" stroke-dasharray="1 5"/>
<line x1="314.5" y1="3" x2="314.5" y2="567" stroke="#ccffff" stroke-dasharray="1 5"/>
<line x1="359.5" y1="1" x2="359.5" y2="567" stroke="#ffccff" stroke-dasharray="1 5"/>
<line x1="359.5" y1="2" x2="359.5" y2="567" stroke="#ccffff" stroke-dasharray="1 5"/>
<line x1="359.5" y1="3" x2="359.5" y2="567" stroke="#ffffcc" stroke-dasharray="1 5"/>
<line x1="410.5" y1="1" x2="410.5" y2="567" stroke="#ccffff" stroke-dasharray="1 5"/>
<line x1="410.5" y1="2" x2="410.5" y2="567" stroke="#ffffcc" stroke-dasharray="1 5"/>
<line x1="410.5" y1="3" x2="410.5" y2="567" stroke="#ffccff" stroke-dasharray="1 5"/>
<line x1="459.5" y1="1" x2="459.5" y2="567" stroke="#ffffcc" stroke-dasharray="1 5"/>
<line x1="459.5" y1="2" x2="459.5" y2="567" stroke="#ffccff" stroke-dasharray="1 5"/>
<line x1="459.5" y1="3" x2="459.5" y2="567" stroke="#ccffff" stroke-dasharray="1 5"/>
<line x1="506.5" y1="1" x2="506.5" y2="567" stroke="#ffccff" stroke-dasharray="1 5"/>
<line x1="506.5" y1="2" x2="506.5" y2="567" stroke="#ccffff" stroke-dasharray="1 5"/>
<line x1="506.5" y1="3" x2="506.5" y2="567" stroke="#ffffcc" stroke-dasharray="1 5"/>
<line x1="555.5" y1="1" x2="555.5" y2="567" stroke="#ccffff" stroke-dasharray="1 5"/>
<line x1="555.5" y1="2" x2="555.5" y2="567" stroke="#ffffcc" stroke-dasharray="1 5"/>
<line x1="555.5" y1="3" x2="555.5" y2="567" stroke="#ffccff" stroke-dasharray="1 5"/>
<line x1="604.5" y1="1" x2="604.5" y2="567" stroke="#ffffcc" stroke-dasharray="1 5"/>
<line x1="604.5" y1="2" x2="604.5" y2="567" stroke="#ffccff" stroke-dasharray="1 5"/>
<line x1="604.5" y1="3" x2="604.5" y2="567" stroke="#ccffff" stroke-dasharray="1 5"/>
<line x1="651.5" y1="1" x2="651.5" y2="567" stroke="#ffccff" stroke-dasharray="1 5"/>
<line x1="651.5" y1="2" x2="651.5" y2="567" stroke="#ccffff" stroke-dasharray="1 5"/>
<line x1="651.5" y1="3" x2="651.5" y2="567" stroke="#ffffcc" stroke-dasharray="1 5"/>
<line x1="705.5" y1="1" x2="705.5" y2="567" stroke="#ccffff" stroke-dasharray="1 5"/>
<line x1="705.5" y1="2" x2="705.5" y2="567" stroke="#ffffcc" stroke-dasharray="1 5"/>
<line x1="705.5" y1="3" x2="705.5" y2="567" stroke="#ffccff" stroke-dasharray="1 5"/>
</g>
<polyline points="0.0,264.0 2.0,278.0 4.0,298.0 7.5,328.0 11.3,366.0 14.0,381.0 15.5,384.0 17.0,382.0 19.0,372.0 22.6,336.0 27.0,298.0 29.0,274.0 31.0,258.0 34.0,248.0 37.0,244.6 41.0,243.6 45.0,246.0 48.0,251.0 51.0,254.0 54.4,253.6 58.0,249.0 62.0,246.6 65.0,247.0 68.0,249.6 73.0,249.6 77.0,245.0 80.0,241.0 86.0,241.0 91.0,240.0 94.0,235.0 98.0,226.0 102.0,217.0 106.0,205.0 110.0,197.0 115.0,190.0 119.0,188.0 122.0,187.6 125.0,193.0 128.0,200.0 131.0,208.0 134.0,215.0 138.0,220.4 143.0,225.0 148.0,228.0 153.0,229.0 158.0,228.6 161.0,226.0 171.0,226.0 175.0,220.0 180.0,214.4 185.0,211.6 190.0,210.6 204.0,210.6 208.0,209.0 212.6,205.0 217.0,206.4 222.0,211.0 227.0,216.0 230.0,222.0 234.0,230.0 238.0,238.0 241.0,241.6 246.0,242.4 250.0,244.0 254.0,248.0 258.0,254.0 262.0,258.0 265.0,260.0" fill="none" stroke="#8a4408" stroke-width="2" stroke-linejoin="round" stroke-linecap="round" shape-rendering="crispEdges"/>
<polyline points="265.0,260.0 268.0,261.0 274.0,261.0 278.0,259.0 282.0,255.6 290.0,248.0 298.0,239.0 300.0,238.0 304.0,235.0 309.0,231.0 313.0,229.6 316.0,229.0 319.0,231.0 322.0,236.0 325.0,244.0 328.0,251.0 332.0,260.0 336.0,266.0 340.0,269.6 343.0,273.0 346.4,275.6 350.0,275.6 353.0,273.0 356.0,269.0 360.0,265.0 363.0,259.0 366.0,250.0 369.0,238.0 371.0,226.0 373.0,215.0 375.0,209.0 378.4,206.0 381.0,208.0 384.0,214.0 387.0,218.0 390.0,219.6 393.0,218.0 397.0,212.0 400.0,206.0 403.0,202.0 407.0,200.0 412.0,199.0 416.0,196.0 420.0,192.0 424.0,191.0 428.0,191.0 432.0,187.0 435.0,184.6 438.0,185.0 441.0,188.0 444.0,191.0 447.0,198.0 450.0,206.0 453.0,214.0 457.0,223.0 461.0,230.0 463.0,235.0 466.0,242.0 469.0,251.0 472.0,258.0 475.0,265.0 478.0,274.0 481.0,283.0 484.0,290.0 487.0,295.0 489.4,296.6 492.0,295.6 495.0,292.0 498.0,283.0 501.0,269.0 503.0,259.0 505.0,247.0 507.0,234.0 509.0,215.0 511.0,199.0 513.0,185.0 515.0,171.0 517.0,158.0 519.0,147.0 521.0,137.0 522.0,129.0 525.0,123.0 529.0,119.0 533.0,117.4 536.0,115.0 539.0,113.6 542.0,114.4 546.0,119.0 550.0,122.6 554.0,124.6 559.0,127.6 563.0,130.0 567.0,134.0 570.0,141.0 572.4,151.0 575.0,161.0 578.0,165.0 583.0,168.0 588.0,173.0 593.0,179.0 598.0,181.4 604.0,186.0 609.0,188.0 613.0,186.0 616.0,184.0 619.6,183.6 622.0,187.0 625.0,193.0 628.0,202.0 631.0,212.0 634.0,223.0 637.0,231.0 640.0,239.0 643.0,244.0 646.0,244.0 649.0,239.0 652.0,231.0 655.0,220.0 658.0,209.0 661.0,199.0 665.0,189.0 668.0,182.0 672.0,176.0 677.0,172.0 682.0,169.0 687.0,167.0 693.0,166.6 696.0,168.0 700.0,171.0 704.0,173.0 708.0,177.0 712.0,180.0 716.0,182.6 721.0,183.0 725.0,181.0 729.0,178.6 734.0,177.0" fill="none" stroke="#0080ff" stroke-width="2" stroke-linejoin="round" stroke-linecap="round" shape-rendering="crispEdges"/>
<g shape-rendering="crispEdges">
<rect x="712" y="2" width="1" height="566" fill="#ff0000"/>
<rect x="0" y="1" width="735" height="1" fill="#000080"/>
<rect x="0" y="567" width="735" height="1" fill="#000080"/>
<rect x="734" y="1" width="1" height="567" fill="#000080"/>
<rect x="735" y="567" width="5" height="1" fill="#000"/>
<rect x="735" y="545" width="5" height="1" fill="#000"/>
<rect x="735" y="522" width="5" height="1" fill="#000"/>
<rect x="735" y="499" width="5" height="1" fill="#000"/>
<rect x="735" y="477" width="5" height="1" fill="#000"/>
<rect x="735" y="454" width="5" height="1" fill="#000"/>
<rect x="735" y="431" width="5" height="1" fill="#000"/>
<rect x="735" y="409" width="5" height="1" fill="#000"/>
<rect x="735" y="386" width="5" height="1" fill="#000"/>
<rect x="735" y="363" width="5" height="1" fill="#000"/>
<rect x="735" y="341" width="5" height="1" fill="#000"/>
<rect x="735" y="318" width="5" height="1" fill="#000"/>
<rect x="735" y="295" width="5" height="1" fill="#000"/>
<rect x="735" y="273" width="5" height="1" fill="#000"/>
<rect x="735" y="250" width="5" height="1" fill="#000"/>
<rect x="735" y="227" width="5" height="1" fill="#000"/>
<rect x="735" y="205" width="5" height="1" fill="#000"/>
<rect x="735" y="182" width="5" height="1" fill="#000"/>
<rect x="735" y="159" width="5" height="1" fill="#000"/>
<rect x="735" y="137" width="5" height="1" fill="#000"/>
<rect x="735" y="114" width="5" height="1" fill="#000"/>
<rect x="735" y="91" width="5" height="1" fill="#000"/>
<rect x="735" y="69" width="5" height="1" fill="#000"/>
<rect x="735" y="46" width="5" height="1" fill="#000"/>
<rect x="735" y="23" width="5" height="1" fill="#000"/>
<rect x="735" y="1" width="5" height="1" fill="#000"/>
<rect x="23" y="568" width="1" height="5" fill="#000"/>
<rect x="68" y="568" width="1" height="5" fill="#000"/>
<rect x="124" y="568" width="1" height="5" fill="#000"/>
<rect x="169" y="568" width="1" height="5" fill="#000"/>
<rect x="213" y="568" width="1" height="5" fill="#000"/>
<rect x="263" y="568" width="1" height="5" fill="#000"/>
<rect x="314" y="568" width="1" height="5" fill="#000"/>
<rect x="359" y="568" width="1" height="5" fill="#000"/>
<rect x="410" y="568" width="1" height="5" fill="#000"/>
<rect x="459" y="568" width="1" height="5" fill="#000"/>
<rect x="506" y="568" width="1" height="5" fill="#000"/>
<rect x="555" y="568" width="1" height="5" fill="#000"/>
<rect x="604" y="568" width="1" height="5" fill="#000"/>
<rect x="651" y="568" width="1" height="5" fill="#000"/>
<rect x="705" y="568" width="1" height="5" fill="#000"/>
</g>
<text transform="translate(747.4,572) scale(0.95,1)" text-anchor="start">21</text>
<text transform="translate(747.4,550) scale(0.95,1)" text-anchor="start">22</text>
<text transform="translate(747.4,527) scale(0.95,1)" text-anchor="start">23</text>
<text transform="translate(747.4,504) scale(0.95,1)" text-anchor="start">24</text>
<text transform="translate(747.4,482) scale(0.95,1)" text-anchor="start">25</text>
<text transform="translate(747.4,459) scale(0.95,1)" text-anchor="start">26</text>
<text transform="translate(747.4,436) scale(0.95,1)" text-anchor="start">27</text>
<text transform="translate(747.4,414) scale(0.95,1)" text-anchor="start">28</text>
<text transform="translate(747.4,391) scale(0.95,1)" text-anchor="start">29</text>
<text transform="translate(747.4,368) scale(0.95,1)" text-anchor="start">30</text>
<text transform="translate(747.4,346) scale(0.95,1)" text-anchor="start">31</text>
<text transform="translate(747.4,323) scale(0.95,1)" text-anchor="start">32</text>
<text transform="translate(747.4,300) scale(0.95,1)" text-anchor="start">33</text>
<text transform="translate(747.4,278) scale(0.95,1)" text-anchor="start">34</text>
<text transform="translate(747.4,255) scale(0.95,1)" text-anchor="start">35</text>
<text transform="translate(747.4,232) scale(0.95,1)" text-anchor="start">36</text>
<text transform="translate(747.4,210) scale(0.95,1)" text-anchor="start">37</text>
<text transform="translate(747.4,187) scale(0.95,1)" text-anchor="start">38</text>
<text transform="translate(747.4,164) scale(0.95,1)" text-anchor="start">39</text>
<text transform="translate(747.4,142) scale(0.95,1)" text-anchor="start">40</text>
<text transform="translate(747.4,119) scale(0.95,1)" text-anchor="start">41</text>
<text transform="translate(747.4,96) scale(0.95,1)" text-anchor="start">42</text>
<text transform="translate(747.4,74) scale(0.95,1)" text-anchor="start">43</text>
<text transform="translate(747.4,51) scale(0.95,1)" text-anchor="start">44</text>
<text transform="translate(747.4,28) scale(0.95,1)" text-anchor="start">45</text>
<text transform="translate(747.4,6) scale(0.95,1)" text-anchor="start">46</text>
<text transform="translate(23.5,589) scale(0.95,1)" text-anchor="middle">Nov</text>
<text transform="translate(68.5,589) scale(0.95,1)" text-anchor="middle">Dec</text>
<text transform="translate(124.5,589) scale(0.95,1)" text-anchor="middle">Jan</text>
<text transform="translate(169.5,589) scale(0.95,1)" text-anchor="middle">Feb</text>
<text transform="translate(213.5,589) scale(0.95,1)" text-anchor="middle">Mar</text>
<text transform="translate(263.5,589) scale(0.95,1)" text-anchor="middle">Apr</text>
<text transform="translate(314.5,589) scale(0.95,1)" text-anchor="middle">May</text>
<text transform="translate(359.5,589) scale(0.95,1)" text-anchor="middle">Jun</text>
<text transform="translate(410.5,589) scale(0.95,1)" text-anchor="middle">Jul</text>
<text transform="translate(459.5,589) scale(0.95,1)" text-anchor="middle">Aug</text>
<text transform="translate(506.5,589) scale(0.95,1)" text-anchor="middle">Sep</text>
<text transform="translate(555.5,589) scale(0.95,1)" text-anchor="middle">Oct</text>
<text transform="translate(604.5,589) scale(0.95,1)" text-anchor="middle">Nov</text>
<text transform="translate(651.5,589) scale(0.95,1)" text-anchor="middle">Dec</text>
<text transform="translate(705.5,589) scale(0.95,1)" text-anchor="middle">Jan</text>
<text transform="translate(124.5,604) scale(0.95,1)" text-anchor="middle" style="fill:#8000ff">09</text>
<text transform="translate(705.5,604) scale(0.95,1)" text-anchor="middle" style="fill:#8000ff">10</text>
</svg></body></html>
